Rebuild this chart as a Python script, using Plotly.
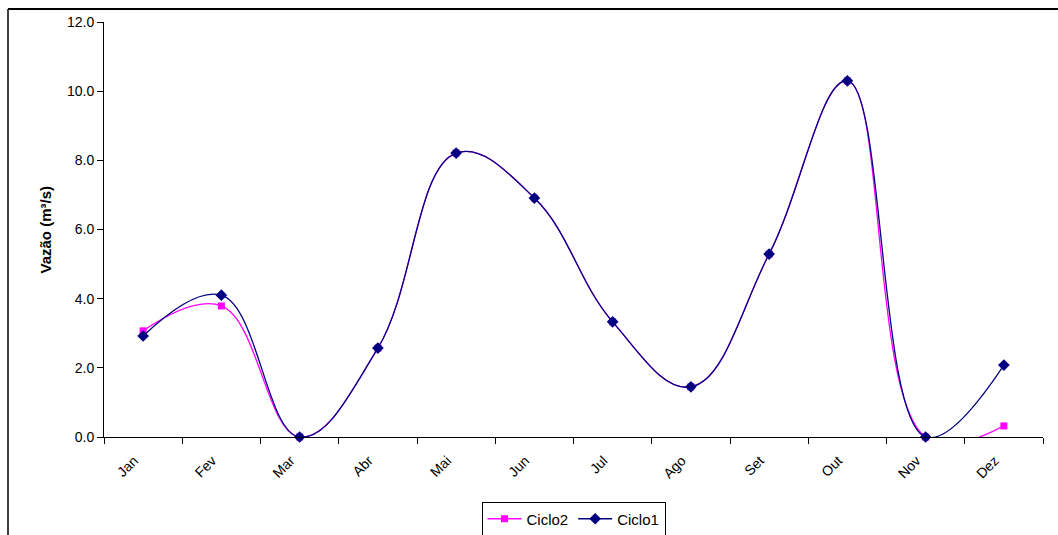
import plotly.graph_objects as go

meses = ["Jan", "Fev", "Mar", "Abr", "Mai", "Jun", "Jul", "Ago", "Set", "Out", "Nov", "Dez"]
ciclo2 = [3.07, 3.79, 0.0, 2.57, 8.21, 6.91, 3.33, 1.45, 5.29, 10.30, 0.0, 0.32]
ciclo1 = [2.92, 4.10, 0.0, 2.57, 8.21, 6.91, 3.33, 1.45, 5.29, 10.30, 0.0, 2.08]
y_ticks = [0, 2, 4, 6, 8, 10, 12]

W, H = 1058, 535
L, R, T, B = 104, 15, 22, 98
pw, ph = W - L - R, H - T - B

def px(x):
    return (x - L) / pw

def py(y):
    return (H - B - y) / ph

fig = go.Figure()
fig.add_trace(go.Scatter(
    x=meses, y=ciclo2, name="Ciclo2", mode="lines+markers",
    line=dict(color="#FF00FF", width=1.3, shape="spline", smoothing=1.15),
    marker=dict(symbol="square", size=7, color="#FF00FF"),
    cliponaxis=False,
))
fig.add_trace(go.Scatter(
    x=meses, y=ciclo1, name="Ciclo1", mode="lines+markers",
    line=dict(color="#000080", width=1.3, shape="spline", smoothing=1.15),
    marker=dict(symbol="diamond", size=9, color="#000080"),
    cliponaxis=False,
))

fig.update_layout(
    width=W, height=H,
    margin=dict(l=L, r=R, t=T, b=B, pad=0, autoexpand=False),
    paper_bgcolor="white", plot_bgcolor="white",
    font=dict(family="Liberation Sans, Arial, sans-serif", size=14, color="black"),
    showlegend=True,
    legend=dict(
        orientation="h", x=0.5, xanchor="center",
        yref="container", y=(H - 519) / H, yanchor="middle",
        bordercolor="black", borderwidth=1, bgcolor="white",
        font=dict(size=15), itemwidth=34, tracegroupgap=0,
    ),
    xaxis=dict(
        type="category", range=[-0.5, 11.5], tickangle=-45, automargin=False,
        showline=True, linecolor="black", linewidth=1,
        ticks="outside", ticklen=6, tickcolor="black", tickson="boundaries",
        showgrid=False, zeroline=False, tickfont=dict(size=14),
        ticklabelstandoff=9, ticklabelshift=-9,
    ),
    yaxis=dict(
        range=[0, 12], tickvals=y_ticks, tickformat=".1f", automargin=False,
        showline=True, linecolor="black", linewidth=1,
        ticks="outside", ticklen=6, tickcolor="black",
        showgrid=False, zeroline=False, tickfont=dict(size=14),
    ),
    annotations=[dict(
        text="<b>Vazão (m³/s)</b>", xref="paper", yref="paper",
        x=px(45), y=0.5, xanchor="center", yanchor="middle",
        textangle=-90, showarrow=False, font=dict(size=15),
    )],
    shapes=[
        dict(type="line", xref="paper", yref="paper", x0=px(8), x1=px(8),
             y0=py(9), y1=py(545), line=dict(color="black", width=1.5)),
        dict(type="line", xref="paper", yref="paper", x0=px(8), x1=px(1070),
             y0=py(9), y1=py(9), line=dict(color="black", width=2)),
    ],
)

fig.write_html("out.html")
